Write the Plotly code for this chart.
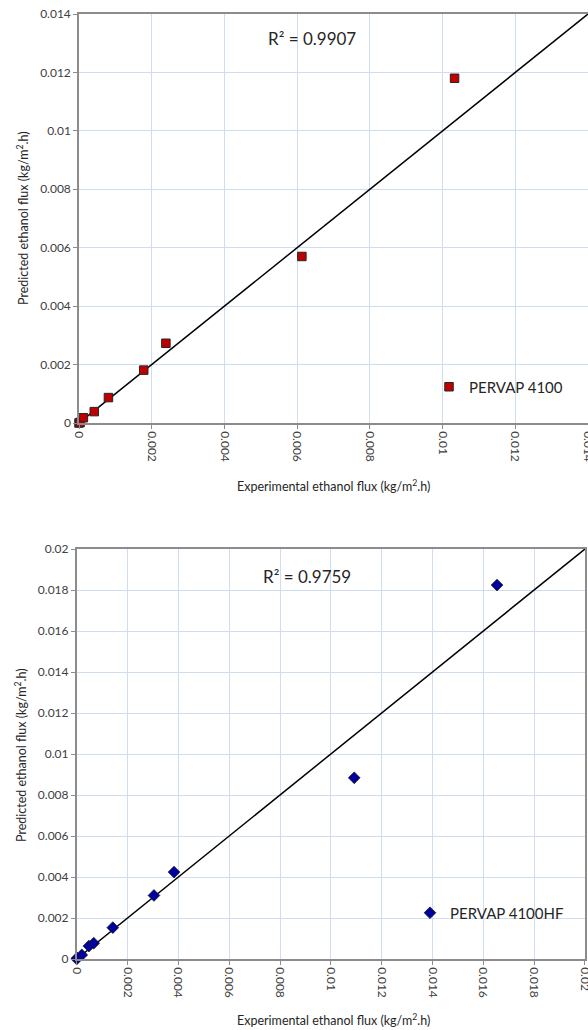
import plotly.graph_objects as go

# PERVAP 4100 (top)
exp_4100 = [0.0, 0.00003, 0.00012, 0.00042, 0.00081, 0.00178, 0.00239, 0.00613, 0.01033]
pred_4100 = [0.0, 0.00002, 0.00018, 0.00039, 0.00087, 0.00181, 0.00273, 0.00570, 0.01180]
r2_4100 = "R² = 0.9907"

# PERVAP 4100HF (bottom)
exp_4100hf = [0.0, 0.00002, 0.00020, 0.00048, 0.00067, 0.00142, 0.00304, 0.00383, 0.01092, 0.01654]
pred_4100hf = [0.0, 0.00005, 0.00020, 0.00063, 0.00077, 0.00153, 0.00310, 0.00424, 0.00884, 0.01824]
r2_4100hf = "R² = 0.9759"

top_ticks = [0, 0.002, 0.004, 0.006, 0.008, 0.01, 0.012, 0.014]
top_ticklabels = ["0", "0.002", "0.004", "0.006", "0.008", "0.01", "0.012", "0.014"]
bot_ticks = [0, 0.002, 0.004, 0.006, 0.008, 0.01, 0.012, 0.014, 0.016, 0.018, 0.02]
bot_ticklabels = ["0", "0.002", "0.004", "0.006", "0.008", "0.01", "0.012", "0.014", "0.016", "0.018", "0.02"]

x_title = "Experimental ethanol flux (kg/m<sup>2</sup>.h)"
y_title = "Predicted ethanol flux (kg/m<sup>2</sup>.h)"

FONT = "Lato"
GRID = "#D0DCF0"
AXIS = "#8C8C8C"
TICKC = "#404040"
TXT = "#262626"

W, H = 588, 1030

def px(x):
    return x / W

def py(y):
    return 1 - y / H

fig = go.Figure()

# y = x parity lines
fig.add_trace(go.Scatter(x=[top_ticks[0], top_ticks[-1]], y=[top_ticks[0], top_ticks[-1]],
                         mode="lines", line=dict(color="black", width=1.5),
                         showlegend=False, hoverinfo="skip", xaxis="x", yaxis="y"))
fig.add_trace(go.Scatter(x=exp_4100, y=pred_4100, mode="markers", name="PERVAP 4100",
                         marker=dict(symbol="square", size=8.5, color="#C00000",
                                     line=dict(color="#262626", width=1)),
                         cliponaxis=False, xaxis="x", yaxis="y", legend="legend"))

fig.add_trace(go.Scatter(x=[bot_ticks[0], bot_ticks[-1]], y=[bot_ticks[0], bot_ticks[-1]],
                         mode="lines", line=dict(color="black", width=1.5),
                         showlegend=False, hoverinfo="skip", xaxis="x2", yaxis="y2"))
fig.add_trace(go.Scatter(x=exp_4100hf, y=pred_4100hf, mode="markers", name="PERVAP 4100HF",
                         marker=dict(symbol="diamond", size=9, color="#0000A0",
                                     line=dict(color="#1a1a1a", width=0.8)),
                         cliponaxis=False, xaxis="x2", yaxis="y2", legend="legend2"))

common_axis = dict(showgrid=True, gridcolor=GRID, gridwidth=1, showline=True, linecolor=AXIS,
                   linewidth=1.5, mirror=True, zeroline=False, ticks="outside", ticklen=4,
                   tickcolor=AXIS, automargin=False, ticklabeloverflow="allow",
                   tickfont=dict(family=FONT, size=12, color=TICKC))

fig.update_layout(
    width=W, height=H, autosize=False,
    margin=dict(l=0, r=0, t=0, b=0, pad=0),
    paper_bgcolor="white", plot_bgcolor="white",
    font=dict(family=FONT, color=TXT),
    xaxis=dict(domain=[px(79), 1.0], range=[0, 0.014], tickvals=top_ticks, ticktext=top_ticklabels,
               tickangle=90, anchor="y", **common_axis),
    yaxis=dict(domain=[py(423), py(14)], range=[0, 0.014], tickvals=top_ticks,
               ticktext=top_ticklabels, anchor="x", **common_axis),
    xaxis2=dict(domain=[px(76.7), px(585)], range=[0, 0.020001], tickvals=bot_ticks, ticktext=bot_ticklabels,
                tickangle=90, anchor="y2", **common_axis),
    yaxis2=dict(domain=[py(959), py(549)], range=[0, 0.02], tickvals=bot_ticks,
                ticktext=bot_ticklabels, anchor="x2", **common_axis),
    legend=dict(x=px(429), y=py(387), xanchor="left", yanchor="middle", bgcolor="rgba(0,0,0,0)",
                font=dict(family=FONT, size=15, color=TXT), itemwidth=30, tracegroupgap=0),
    legend2=dict(x=px(410), y=py(913), xanchor="left", yanchor="middle", bgcolor="rgba(0,0,0,0)",
                 font=dict(family=FONT, size=15, color=TXT), itemwidth=30, tracegroupgap=0),
    annotations=[
        dict(text=r2_4100, x=px(266), y=py(38), xref="paper", yref="paper", xanchor="left",
             yanchor="middle", showarrow=False, font=dict(family=FONT, size=17, color=TXT)),
        dict(text=r2_4100hf, x=px(261), y=py(576), xref="paper", yref="paper", xanchor="left",
             yanchor="middle", showarrow=False, font=dict(family=FONT, size=17, color=TXT)),
        dict(text=x_title, x=px(333), y=py(485), xref="paper", yref="paper", xanchor="center",
             yanchor="middle", showarrow=False, font=dict(family=FONT, size=12.5, color=TXT)),
        dict(text=x_title, x=px(333), y=py(1019), xref="paper", yref="paper", xanchor="center",
             yanchor="middle", showarrow=False, font=dict(family=FONT, size=12.5, color=TXT)),
        dict(text=y_title, x=px(22), y=py(218), xref="paper", yref="paper", xanchor="center",
             yanchor="middle", textangle=-90, showarrow=False,
             font=dict(family=FONT, size=12.5, color=TXT)),
        dict(text=y_title, x=px(20), y=py(755), xref="paper", yref="paper", xanchor="center",
             yanchor="middle", textangle=-90, showarrow=False,
             font=dict(family=FONT, size=12.5, color=TXT)),
    ],
)

fig.write_html("out.html", config={"displayModeBar": False},
               post_script="document.body.style.margin='0';document.body.style.overflow='hidden';")
